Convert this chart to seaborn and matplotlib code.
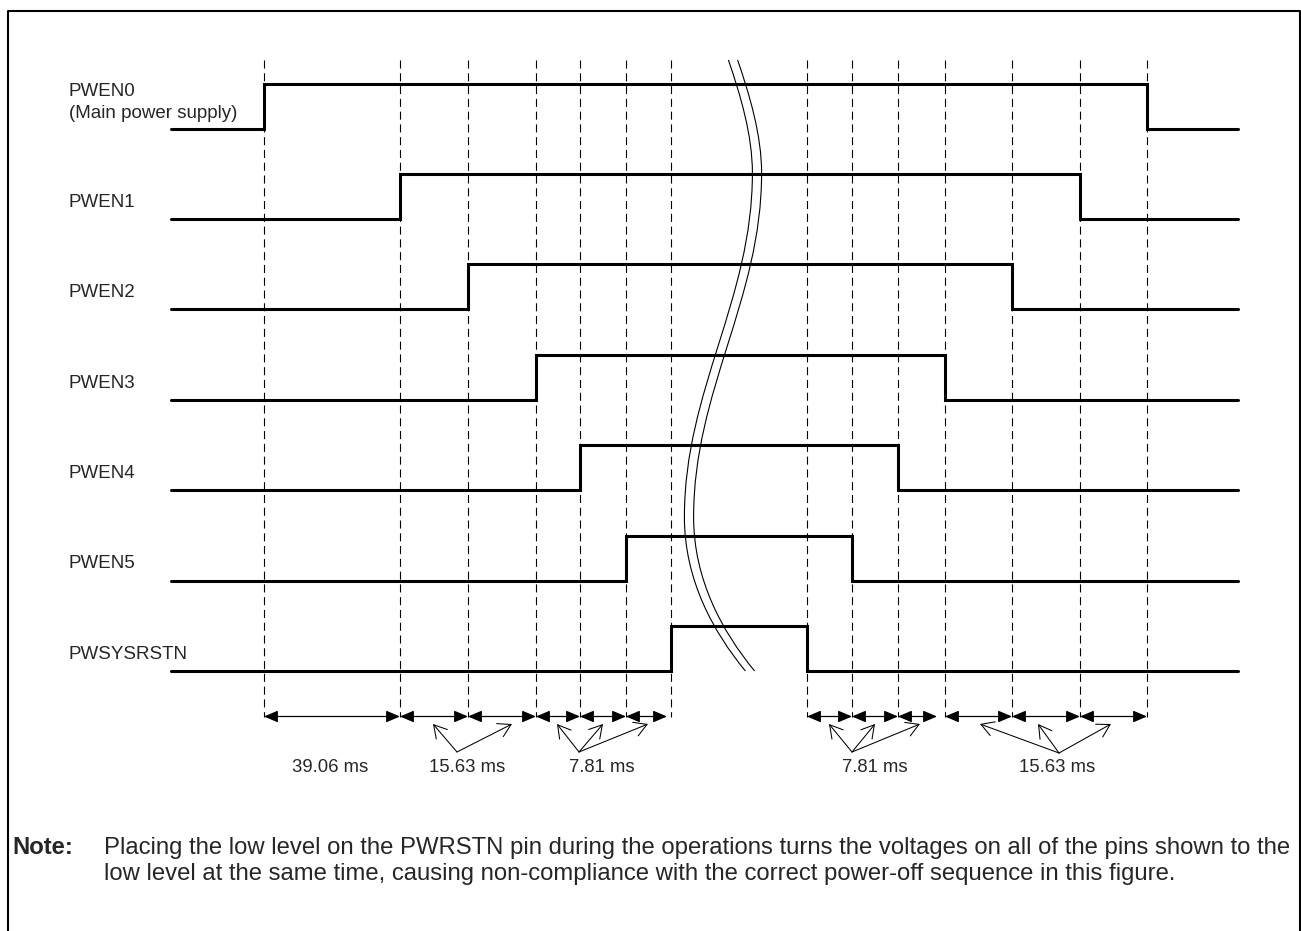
import numpy as np
import pandas as pd
import seaborn as sns
import matplotlib.pyplot as plt
from matplotlib.path import Path
from matplotlib.patches import PathPatch

# signal names and edge positions (x in px along the time axis)
signals = ["PWEN0\n(Main power supply)", "PWEN1", "PWEN2", "PWEN3", "PWEN4", "PWEN5", "PWSYSRSTN"]
rise_x = [264, 400, 468, 536, 580, 626, 671]
fall_x = [1147, 1080, 1012, 945, 898, 852, 807]
t_start, t_end = 171, 1238

# dimension arrows between edges
on_spans = [(264, 400), (400, 468), (468, 536), (536, 580), (580, 626), (626, 667)]
off_spans = [(807, 852), (852, 898), (898, 937), (945, 1012), (1012, 1080), (1080, 1147)]
interval_labels = ["39.06 ms", "15.63 ms", "7.81 ms", "7.81 ms", "15.63 ms"]
label_x = [330, 467, 602, 875, 1057]
# leader lines: apex -> tips
leader_apex = [None, (457, 752), (579, 752), (852, 752), (1059, 753)]
leader_tips = [[], [433, 512], [557, 603, 648], [829, 875, 920], [980, 1038, 1111]]

note_head = "Note:"
note_lines = ["Placing the low level on the PWRSTN pin during the operations turns the voltages on all of the pins shown to the",
              "low level at the same time, causing non-compliance with the correct power-off sequence in this figure."]

sns.set_style("white")
plt.rcParams['font.family'] = ['Liberation Sans', 'DejaVu Sans']
plt.rcParams['lines.scale_dashes'] = False

row0, pitch, amp = 128.5, 90.4, 45

rows = []
for i, name in enumerate(signals):
    low = row0 + i * pitch
    for x, lvl in [(t_start, 0), (rise_x[i], 1), (fall_x[i], 0), (t_end, 0)]:
        rows.append({"signal": name, "x": x, "y": low - lvl * amp})
df = pd.DataFrame(rows)

fig = plt.figure(figsize=(13.01, 9.31), dpi=100)
ax = fig.add_axes([0, 0, 1, 1])

sns.lineplot(data=df, x="x", y="y", units="signal", estimator=None, drawstyle="steps-post",
             color="black", lw=2.2, legend=False, ax=ax, solid_joinstyle="miter")

# dashed timing markers
marks = sorted(set(rise_x + fall_x))
ax.vlines(marks, 60, 717, colors="black", lw=0.8, linestyles=(0, (5.8, 3.4)))

# signal labels
for i, name in enumerate(signals):
    low = row0 + i * pitch
    yc = low - 26 if "\n" in name else low - 16.5
    ax.text(69, yc, name, fontsize=13.5, va="center", ha="left", linespacing=1.45)

# break mark: two parallel S-curves
for dx in (-4.6, 4.6):
    verts = [(733, 60), (745, 95), (757, 135), (757, 173),
             (757, 300), (689, 390), (689, 517),
             (689, 580), (718, 632), (750, 671)]
    verts = [(x + dx, y) for x, y in verts]
    codes = [Path.MOVETO] + [Path.CURVE4] * 9
    ax.add_patch(PathPatch(Path(verts, codes), fill=False, lw=0.8, ec="black"))

# dimension arrows
arrow_y = 716.5
for a, b in on_spans + off_spans:
    ax.annotate("", xy=(b, arrow_y), xytext=(a, arrow_y),
                arrowprops=dict(arrowstyle="<|-|>,head_length=0.4,head_width=0.17",
                                color="black", lw=0.9, mutation_scale=21,
                                shrinkA=0, shrinkB=0))

# interval texts and leaders
for lbl, lx, apex, tips in zip(interval_labels, label_x, leader_apex, leader_tips):
    ax.text(lx, 767, lbl, fontsize=13.3, ha="center", va="center")
    for tx in tips:
        ax.annotate("", xy=(tx, 724), xytext=apex,
                    arrowprops=dict(arrowstyle="->,head_length=0.6,head_width=0.35",
                                    color="black", lw=0.75, mutation_scale=15,
                                    shrinkA=0, shrinkB=0))

# note
ax.text(12.7, 848, note_head, fontsize=17.2, fontweight="bold", va="center", ha="left")
for k, line in enumerate(note_lines):
    ax.text(104, 848 + k * 26, line, fontsize=17.2, va="center", ha="left")

# frame
ax.plot([7.5, 7.5, 1299.5, 1299.5], [931, 10.7, 10.7, 931], color="black", lw=1.5)

ax.set_xlim(0, 1301)
ax.set_ylim(931, 0)
ax.axis("off")

fig.savefig("out.png", dpi=100)
